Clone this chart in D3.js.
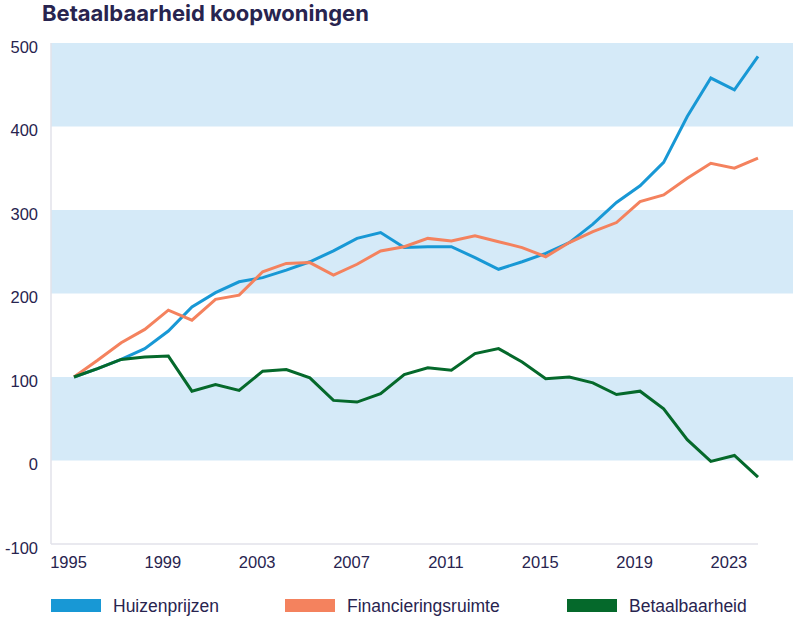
<!DOCTYPE html>
<html>
<head>
<meta charset="utf-8">
<style>
  body { margin: 0; background: #fff; }
  text { font-family: "Liberation Sans", Arial, sans-serif; fill: #28244f; }
</style>
</head>
<body>
<script src="https://cdn.jsdelivr.net/npm/d3@7"></script>
<script>
// data (index, 1995 = 100)
var years = d3.range(1995, 2025)
var huizenprijzen = [100, 110, 121, 134, 155, 184, 201, 214, 219, 228, 238, 251, 266, 273, 255, 256, 256, 243, 229, 238, 248, 261, 283, 309, 329, 357, 412, 458, 444, 484]
var financieringsruimte = [100, 120, 141, 157, 180, 168, 193, 198, 226, 236, 237, 222, 235, 251, 256, 266, 263, 269, 262, 255, 244, 261, 274, 285, 310, 318, 338, 356, 350, 362]
var betaalbaarheid = [100, 110, 121, 124, 125, 83, 91, 84, 107, 109, 99, 72, 70, 80, 103, 111, 108, 128, 134, 118, 98, 100, 93, 79, 83, 62, 25, -1, 6, -20]

var yTicks = [-100, 0, 100, 200, 300, 400, 500]
var xTicks = [1995, 1999, 2003, 2007, 2011, 2015, 2019, 2023]
var bands = [[400, 500], [200, 300], [0, 100]]

var series = [
  {name: "Huizenprijzen", values: huizenprijzen, color: "#1898d5"},
  {name: "Financieringsruimte", values: financieringsruimte, color: "#f4825e"},
  {name: "Betaalbaarheid", values: betaalbaarheid, color: "#05692b"}
]

var svgWidth = 800, svgHeight = 620
var plotLeft = 51, plotRight = 793, plotTop = 43, plotBottom = 544

var svg = d3.select("body").append("svg")
  .attr("width", svgWidth)
  .attr("height", svgHeight)

var x = d3.scaleLinear().domain([1995, 2024]).range([74, 758])
var y = d3.scaleLinear().domain([-100, 500]).range([plotBottom, plotTop])

// title
svg.append("text")
  .attr("x", 42)
  .attr("y", 21)
  .style("font-family", "Inter, sans-serif")
  .style("font-weight", "700")
  .style("font-size", "22px")
  .text("Betaalbaarheid koopwoningen")

// blue bands
svg.selectAll(".band").data(bands).enter().append("rect")
  .attr("class", "band")
  .attr("x", plotLeft)
  .attr("width", plotRight - plotLeft)
  .attr("y", function(d) { return y(d[1]) })
  .attr("height", function(d) { return y(d[0]) - y(d[1]) })
  .attr("fill", "#d5eaf8")

// axis lines
svg.append("line")
  .attr("x1", plotLeft).attr("x2", plotLeft)
  .attr("y1", plotTop).attr("y2", plotBottom)
  .attr("stroke", "#e2e2ea").attr("stroke-width", 1.5)
svg.append("line")
  .attr("x1", plotLeft).attr("x2", 758)
  .attr("y1", plotBottom).attr("y2", plotBottom)
  .attr("stroke", "#e2e2ea").attr("stroke-width", 1.5)

// y axis labels
var yAxis = svg.append("g")
  .attr("transform", "translate(38,4)")
  .call(d3.axisLeft(y).tickValues(yTicks).tickFormat(function(d) { return String(d) }).tickSize(0).tickPadding(0))
yAxis.select(".domain").remove()
yAxis.selectAll("text")
  .style("font-size", "16.5px")
  .style("fill", "#28244f")

// x axis labels
var xAxis = svg.append("g")
  .attr("transform", "translate(-6," + plotBottom + ")")
  .call(d3.axisBottom(x).tickValues(xTicks).tickFormat(d3.format("d")).tickSize(0).tickPadding(12))
xAxis.select(".domain").remove()
xAxis.selectAll("text")
  .style("font-size", "16.5px")
  .style("fill", "#28244f")

// lines
var line = d3.line()
  .x(function(d, i) { return x(years[i]) })
  .y(function(d) { return y(d) })

svg.selectAll(".serie").data(series).enter().append("path")
  .attr("class", "serie")
  .attr("d", function(d) { return line(d.values) })
  .attr("fill", "none")
  .attr("stroke", function(d) { return d.color })
  .attr("stroke-width", 3)
  .attr("stroke-linejoin", "miter")

// legend
var legendX = [51, 285, 567]
var legend = svg.selectAll(".legend").data(series).enter().append("g")
  .attr("class", "legend")
  .attr("transform", function(d, i) { return "translate(" + legendX[i] + ",599)" })
legend.append("rect")
  .attr("width", 50)
  .attr("height", 13)
  .attr("fill", function(d) { return d.color })
legend.append("text")
  .attr("x", 62)
  .attr("y", 13)
  .style("font-size", "17.5px")
  .text(function(d) { return d.name })
</script>
</body>
</html>
